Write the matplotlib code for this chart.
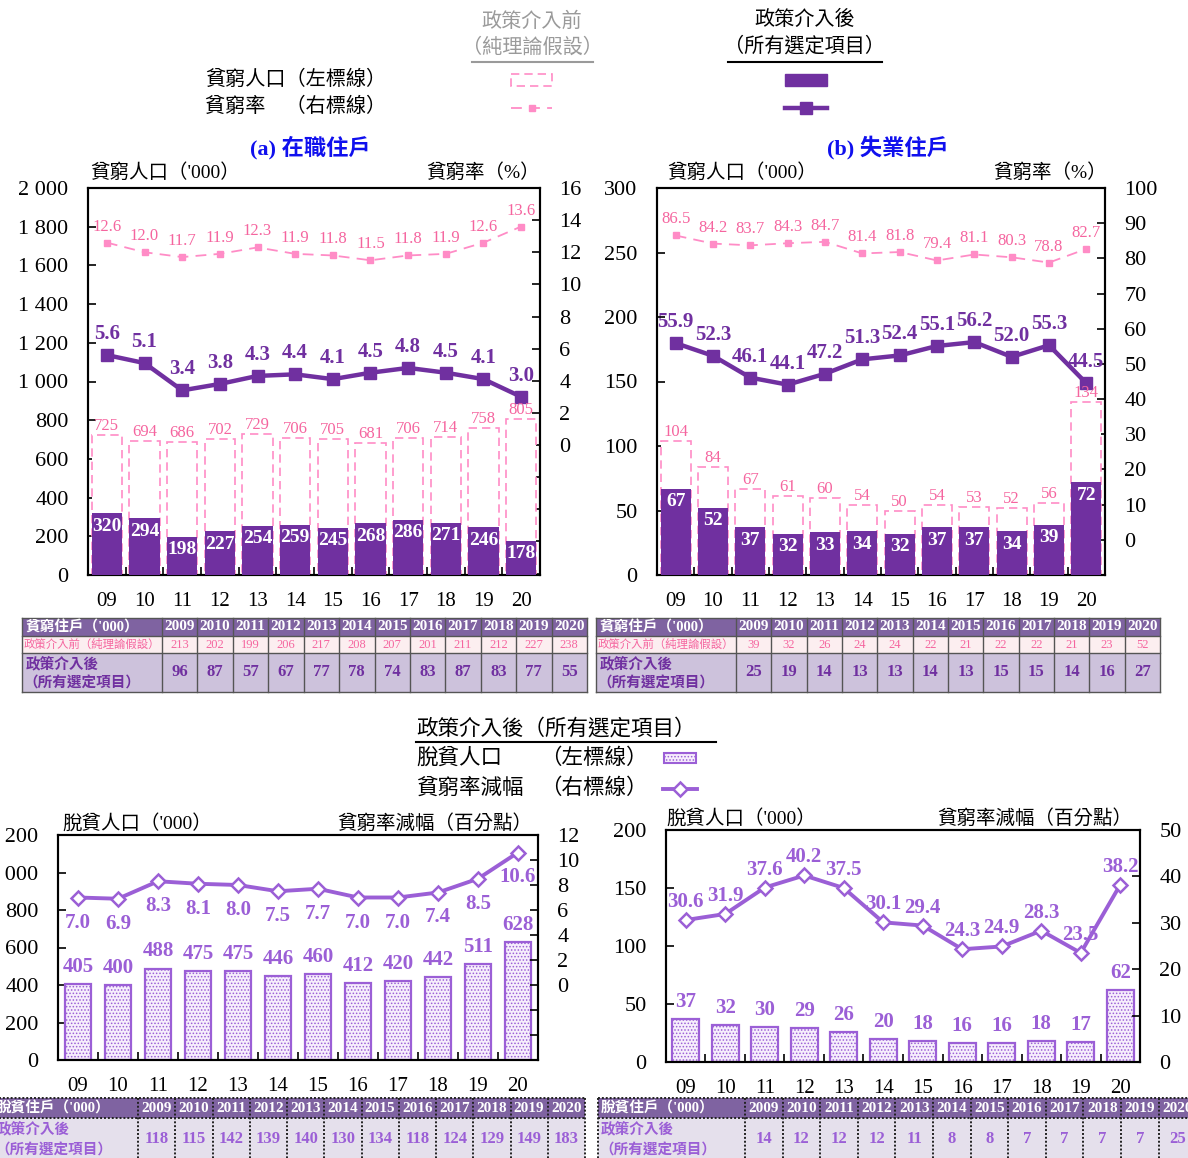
import matplotlib
matplotlib.use('Agg')
import matplotlib.pyplot as plt
import numpy as np
from matplotlib.patches import Rectangle
from matplotlib.lines import Line2D

plt.rcParams['font.family'] = ['Liberation Serif', 'Noto Sans CJK TC']
plt.rcParams['hatch.linewidth'] = 0.7

# ---------------- data ----------------
years_short = ['09', '10', '11', '12', '13', '14', '15', '16', '17', '18', '19', '20']
years_full = ['2009', '2010', '2011', '2012', '2013', '2014', '2015', '2016', '2017', '2018', '2019', '2020']

# (a) working households
a_pop_before = [725, 694, 686, 702, 729, 706, 705, 681, 706, 714, 758, 805]
a_pop_after = [320, 294, 198, 227, 254, 259, 245, 268, 286, 271, 246, 178]
a_rate_before = [12.6, 12.0, 11.7, 11.9, 12.3, 11.9, 11.8, 11.5, 11.8, 11.9, 12.6, 13.6]
a_rate_after = [5.6, 5.1, 3.4, 3.8, 4.3, 4.4, 4.1, 4.5, 4.8, 4.5, 4.1, 3.0]
a_hh_before = [213, 202, 199, 206, 217, 208, 207, 201, 211, 212, 227, 238]
a_hh_after = [96, 87, 57, 67, 77, 78, 74, 83, 87, 83, 77, 55]

# (b) unemployed households
b_pop_before = [104, 84, 67, 61, 60, 54, 50, 54, 53, 52, 56, 134]
b_pop_after = [67, 52, 37, 32, 33, 34, 32, 37, 37, 34, 39, 72]
b_rate_before = [86.5, 84.2, 83.7, 84.3, 84.7, 81.4, 81.8, 79.4, 81.1, 80.3, 78.8, 82.7]
b_rate_after = [55.9, 52.3, 46.1, 44.1, 47.2, 51.3, 52.4, 55.1, 56.2, 52.0, 55.3, 44.5]
b_hh_before = [39, 32, 26, 24, 24, 22, 21, 22, 22, 21, 23, 52]
b_hh_after = [25, 19, 14, 13, 13, 14, 13, 15, 15, 14, 16, 27]

# (c) working households - lifted out of poverty
c_lifted = [405, 400, 488, 475, 475, 446, 460, 412, 420, 442, 511, 628]
c_reduction = [7.0, 6.9, 8.3, 8.1, 8.0, 7.5, 7.7, 7.0, 7.0, 7.4, 8.5, 10.6]
c_hh = [118, 115, 142, 139, 140, 130, 134, 118, 124, 129, 149, 183]

# (d) unemployed households - lifted out of poverty
d_lifted = [37, 32, 30, 29, 26, 20, 18, 16, 16, 18, 17, 62]
d_reduction = [30.6, 31.9, 37.6, 40.2, 37.5, 30.1, 29.4, 24.3, 24.9, 28.3, 23.5, 38.2]
d_hh = [14, 12, 12, 12, 11, 8, 8, 7, 7, 7, 7, 25]

a_left_ticks = [0, 200, 400, 600, 800, 1000, 1200, 1400, 1600, 1800, 2000]
a_right_ticks = [0, 2, 4, 6, 8, 10, 12, 14, 16]
b_left_ticks = [0, 50, 100, 150, 200, 250, 300]
b_right_ticks = [0, 10, 20, 30, 40, 50, 60, 70, 80, 90, 100]
c_left_ticks = [0, 200, 400, 600, 800, 1000, 1200]
c_right_ticks = [0, 2, 4, 6, 8, 10, 12]
d_left_ticks = [0, 50, 100, 150, 200]
d_right_ticks = [0, 10, 20, 30, 40, 50]

# ---------------- styles ----------------
PURPLE = '#7030A0'
PINK = '#FF8CC6'
PINK_TXT = '#F5659F'
LPURPLE = '#9B5FD6'
BLUE = '#1010EE'
HDR = '#7F63A1'
PINK_BG = '#FCEEF0'
PURP_BG = '#CDC2DC'
LIGHT_BG = '#E5E0EC'

W, H = 1188, 1158
fig = plt.figure(figsize=(W / 100, H / 100), dpi=100)


def px_axes(x0, y0, x1, y1):
    return fig.add_axes([x0 / W, 1 - y1 / H, (x1 - x0) / W, (y1 - y0) / H])


def fmt_thousands(v):
    return f'{v:,}'.replace(',', ' ')


def style_axes(ax, ax2, left_ticks, right_ticks, ylim_l, ylim_r, fs=16):
    x = np.arange(12)
    ax.set_xlim(-0.5, 11.5)
    ax.set_ylim(*ylim_l)
    ax.set_xticks(x)
    ax.set_xticklabels(years_short, fontsize=fs - 1)
    ax.set_xticks(np.arange(0.5, 11, 1), minor=True)
    ax.tick_params(axis='x', which='major', length=0, pad=12)
    ax.tick_params(axis='x', which='minor', direction='in', length=6, width=1.2)
    ax.set_yticks(left_ticks)
    ax.set_yticklabels([fmt_thousands(v) for v in left_ticks], fontsize=fs)
    ax.tick_params(axis='y', direction='in', length=6, width=1.2, pad=14)
    ax2.set_ylim(*ylim_r)
    step = right_ticks[1] - right_ticks[0]
    allr = np.arange(right_ticks[0] - step * 10, right_ticks[-1] + step / 2, step)
    allr = [v for v in allr if v >= ylim_r[0] - 1e-9]
    ax2.set_yticks(allr)
    ax2.set_yticklabels([f'{v:g}' if v >= 0 else '' for v in allr], fontsize=fs)
    ax2.tick_params(axis='y', direction='in', length=6, width=1.2, pad=14)
    for a in (ax, ax2):
        for s in a.spines.values():
            s.set_linewidth(1.5)


def top_panel(rect, pop_b, pop_a, rate_b, rate_a, lt, rt, yl, yr, bw):
    ax = px_axes(*rect)
    ax2 = ax.twinx()
    x = np.arange(12)
    ax.bar(x, pop_b, width=bw, facecolor='white', edgecolor=PINK,
           linestyle=(0, (5, 3)), linewidth=1.2, zorder=2)
    ax.bar(x, pop_a, width=bw, color=PURPLE, zorder=3)
    for xi, v in zip(x, pop_b):
        ax.annotate(f'{v}', (xi, v), xytext=(0, 9), textcoords='offset pixels',
                    ha='center', va='center', color=PINK_TXT, fontsize=12, zorder=5)
    for xi, v in zip(x, pop_a):
        ax.annotate(f'{v}', (xi, v), xytext=(0, -13), textcoords='offset pixels',
                    ha='center', va='center', color='white', fontsize=14,
                    fontweight='bold', zorder=5)
    ax2.plot(x, rate_b, color=PINK, ls=(0, (6, 4)), lw=1.3, marker='s', ms=5, zorder=4)
    ax2.plot(x, rate_a, color=PURPLE, lw=3.2, marker='s', ms=9, zorder=4)
    for xi, v in zip(x, rate_b):
        ax2.annotate(f'{v:.1f}', (xi, v), xytext=(0, 16), textcoords='offset pixels',
                     ha='center', va='center', color=PINK_TXT, fontsize=12)
    for xi, v in zip(x, rate_a):
        ax2.annotate(f'{v:.1f}', (xi, v), xytext=(0, 21), textcoords='offset pixels',
                     ha='center', va='center', color=PURPLE, fontsize=15, fontweight='bold')
    style_axes(ax, ax2, lt, rt, yl, yr)
    ax.set_zorder(ax2.get_zorder() + 1)
    ax.patch.set_visible(False)
    return ax, ax2


def bottom_panel(rect, lifted, red, lt, rt, yl, yr, bw, line_above):
    ax = px_axes(*rect)
    ax2 = ax.twinx()
    x = np.arange(12)
    ax.bar(x, lifted, width=bw, facecolor='#F6EEFC', edgecolor=LPURPLE,
           hatch='.....', linewidth=1.6, zorder=2)
    for xi, v in zip(x, lifted):
        ax.annotate(f'{v}', (xi, v), xytext=(0, 17), textcoords='offset pixels',
                    ha='center', va='center', color=LPURPLE, fontsize=15,
                    fontweight='bold', zorder=5)
    ax2.plot(x, red, color=LPURPLE, lw=2.8, marker='D', ms=7, mfc='white',
             mec=LPURPLE, mew=1.8, zorder=4)
    off = 18 if line_above else -25
    for xi, v in zip(x, red):
        ax2.annotate(f'{v:.1f}', (xi, v), xytext=(0, off), textcoords='offset pixels',
                     ha='center', va='center', color=LPURPLE, fontsize=15,
                     fontweight='bold')
    style_axes(ax, ax2, lt, rt, yl, yr)
    return ax, ax2


# ---------------- panels ----------------
top_panel((88, 188, 540, 575), a_pop_before, a_pop_after, a_rate_before, a_rate_after,
          a_left_ticks, a_right_ticks, (0, 2000), (-130 / 257 * 16, 16), 0.8)
top_panel((657, 188, 1105, 575), b_pop_before, b_pop_after, b_rate_before, b_rate_after,
          b_left_ticks, b_right_ticks, (0, 300), (-10, 100), 0.8)
bottom_panel((58, 835, 538, 1060), c_lifted, c_reduction, c_left_ticks, c_right_ticks,
             (0, 1200), (-6, 12), 0.66, False)
bottom_panel((666, 830, 1140, 1062), d_lifted, d_reduction, d_left_ticks, d_right_ticks,
             (0, 200), (0, 50), 0.68, True)

# ---------------- overlay (legends, titles, tables) ----------------
ov = fig.add_axes([0, 0, 1, 1])
ov.set_xlim(0, W)
ov.set_ylim(H, 0)
ov.set_axis_off()

# top legend
ov.text(532, 22, '政策介入前', ha='center', va='center', fontsize=14.5, color='#9A9A9A')
ov.text(532, 48, '（純理論假設）', ha='center', va='center', fontsize=14.5, color='#9A9A9A')
ov.add_line(Line2D([472, 593], [62, 62], color='#9A9A9A', lw=1.5))
ov.text(805, 20, '政策介入後', ha='center', va='center', fontsize=14.5, color='black')
ov.text(805, 47, '（所有選定項目）', ha='center', va='center', fontsize=14.5, color='black')
ov.add_line(Line2D([728, 882], [62, 62], color='black', lw=1.5))
ov.text(205, 80, '貧窮人口（左標線）', ha='left', va='center', fontsize=14.5)
ov.text(205, 107, '貧窮率\u3000（右標線）', ha='left', va='center', fontsize=14.5)
ov.add_patch(Rectangle((511, 74), 41, 12, facecolor='white', edgecolor=PINK,
                       linestyle=(0, (5, 3)), lw=1.2))
ov.add_line(Line2D([511, 552], [108, 108], color=PINK, ls=(0, (6, 4)), lw=1.3))
ov.add_line(Line2D([531.5], [108], color=PINK, marker='s', ms=5, ls='none'))
ov.add_patch(Rectangle((785, 74), 42, 12, facecolor=PURPLE, edgecolor=PURPLE))
ov.add_line(Line2D([785, 827], [108, 108], color=PURPLE, lw=3.2))
ov.add_line(Line2D([806], [108], color=PURPLE, marker='s', ms=9, ls='none'))

# titles
ov.text(310, 148, '(a) 在職住戶', ha='center', va='center', fontsize=16,
        fontweight='bold', color=BLUE)
ov.text(888, 148, '(b) 失業住戶', ha='center', va='center', fontsize=16,
        fontweight='bold', color=BLUE)

# axis titles
ov.text(90, 173, "貧窮人口（'000）", ha='left', va='center', fontsize=14)
ov.text(540, 173, '貧窮率（%）', ha='right', va='center', fontsize=14)
ov.text(667, 173, "貧窮人口（'000）", ha='left', va='center', fontsize=14)
ov.text(1107, 173, '貧窮率（%）', ha='right', va='center', fontsize=14)
ov.text(62, 823, "脫貧人口（'000）", ha='left', va='center', fontsize=14)
ov.text(532, 823, '貧窮率減幅（百分點）', ha='right', va='center', fontsize=14)
ov.text(666, 818, "脫貧人口（'000）", ha='left', va='center', fontsize=14)
ov.text(1132, 818, '貧窮率減幅（百分點）', ha='right', va='center', fontsize=14)

# middle legend
ov.text(416, 729, '政策介入後（所有選定項目）', ha='left', va='center', fontsize=15.5)
ov.add_line(Line2D([416, 716], [742, 742], color='black', lw=1.5))
ov.text(416, 759, '脫貧人口', ha='left', va='center', fontsize=15.5)
ov.text(540, 759, '（左標線）', ha='left', va='center', fontsize=15.5)
ov.text(416, 789, '貧窮率減幅', ha='left', va='center', fontsize=15.5)
ov.text(540, 789, '（右標線）', ha='left', va='center', fontsize=15.5)
ov.add_patch(Rectangle((664, 753), 32, 10, facecolor='#F6EEFC', edgecolor=LPURPLE,
                       hatch='.....', lw=1.5))
ov.add_line(Line2D([663, 697], [789, 789], color=LPURPLE, lw=2.8))
ov.add_line(Line2D([680], [789], color=LPURPLE, marker='D', ms=7, mfc='white',
                   mew=1.8, ls='none'))


def top_table(x0, c0, x1, before, after):
    cw = (x1 - c0) / 12
    y0, y1, y2, y3 = 618, 636, 653, 692
    ov.add_patch(Rectangle((x0, y0), x1 - x0, y1 - y0, facecolor=HDR, edgecolor='none'))
    ov.add_patch(Rectangle((x0, y1), x1 - x0, y2 - y1, facecolor=PINK_BG, edgecolor='none'))
    ov.add_patch(Rectangle((x0, y2), x1 - x0, y3 - y2, facecolor=PURP_BG, edgecolor='none'))
    for yy in (y0, y1, y2, y3):
        ov.add_line(Line2D([x0, x1], [yy, yy], color='#555555', lw=1))
    for xx in [x0, c0] + [c0 + cw * (i + 1) for i in range(12)]:
        ov.add_line(Line2D([xx, xx], [y0, y3], color='#555555', lw=1))
    ov.text(x0 + 4, (y0 + y1) / 2, "貧窮住戶（'000）", ha='left', va='center',
            fontsize=10.5, color='white', fontweight='bold')
    ov.text(x0 + 2, (y1 + y2) / 2, '政策介入前（純理論假設）', ha='left', va='center',
            fontsize=8.2, color=PINK_TXT)
    ov.text(x0 + 4, y2 + 11, '政策介入後', ha='left', va='center', fontsize=10.5,
            color=PURPLE, fontweight='bold')
    ov.text(x0 + 1, y2 + 30, '（所有選定項目）', ha='left', va='center', fontsize=10.5,
            color=PURPLE, fontweight='bold')
    for i in range(12):
        cx = c0 + cw * (i + 0.5)
        ov.text(cx, (y0 + y1) / 2, years_full[i], ha='center', va='center',
                fontsize=11, color='white', fontweight='bold')
        ov.text(cx, (y1 + y2) / 2, f'{before[i]}', ha='center', va='center',
                fontsize=9, color=PINK_TXT)
        ov.text(cx, (y2 + y3) / 2, f'{after[i]}', ha='center', va='center',
                fontsize=12, color=PURPLE, fontweight='bold')


def bottom_table(x0, c0, cw, vals):
    x1 = c0 + cw * 12
    y0, y1, y2 = 1098, 1118, 1165
    ov.add_patch(Rectangle((x0, y0), x1 - x0, y1 - y0, facecolor=HDR, edgecolor='none'))
    ov.add_patch(Rectangle((x0, y1), x1 - x0, y2 - y1, facecolor=LIGHT_BG, edgecolor='none'))
    for yy in (y0, y1):
        ov.add_line(Line2D([x0, x1], [yy, yy], color='#222222', lw=1.4, ls=(0, (1, 1))))
    for xx in [x0, c0] + [c0 + cw * (i + 1) for i in range(12)]:
        ov.add_line(Line2D([xx, xx], [y0, y2], color='#222222', lw=1.4, ls=(0, (1, 1))))
    ov.text(x0 + 3, (y0 + y1) / 2, "脫貧住戶（'000）", ha='left', va='center',
            fontsize=10.5, color='white', fontweight='bold')
    ov.text(x0 + 3, y1 + 11, '政策介入後', ha='left', va='center', fontsize=10.5,
            color=LPURPLE, fontweight='bold')
    ov.text(x0 + 1, y1 + 32, '（所有選定項目）', ha='left', va='center', fontsize=10.5,
            color=LPURPLE, fontweight='bold')
    for i in range(12):
        cx = c0 + cw * (i + 0.5)
        ov.text(cx, (y0 + y1) / 2, years_full[i], ha='center', va='center',
                fontsize=11, color='white', fontweight='bold')
        ov.text(cx, y1 + 21, f'{vals[i]}', ha='center', va='center',
                fontsize=12, color=LPURPLE, fontweight='bold')


top_table(22, 162, 587, a_hh_before, a_hh_after)
top_table(596, 736, 1160, b_hh_before, b_hh_after)
bottom_table(-6, 138, 37.25, c_hh)
bottom_table(598, 745, 37.6, d_hh)

fig.savefig('out.png', dpi=100)
